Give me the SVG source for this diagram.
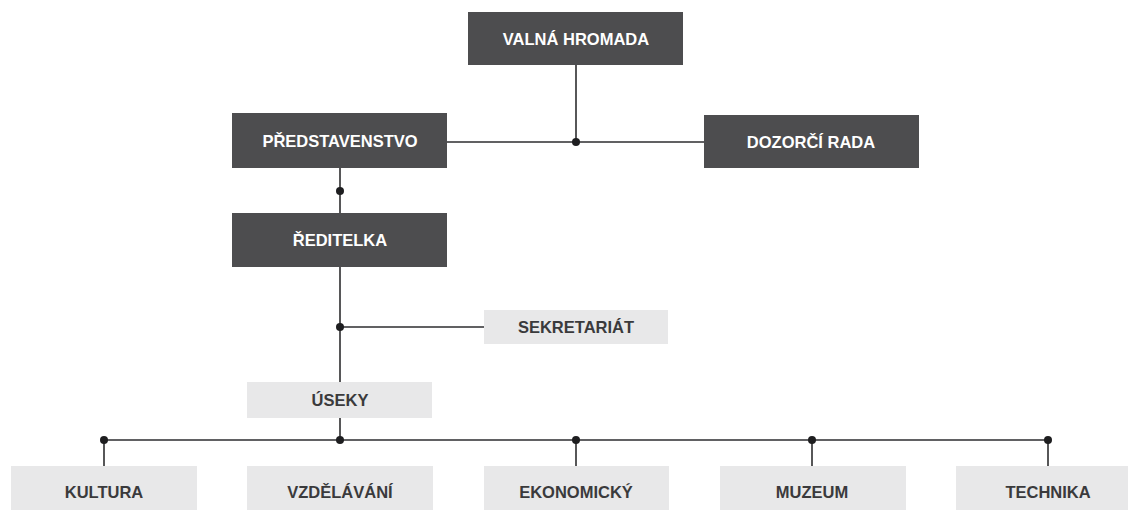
<svg xmlns="http://www.w3.org/2000/svg" width="1128" height="510" viewBox="0 0 1128 510">
<style>
.dark{fill:#4d4d4f}
.light{fill:#e8e8e9}
.tw{fill:#ffffff;font-family:"Liberation Sans",Arial,sans-serif;font-weight:bold;font-size:16.5px;text-anchor:middle}
.td{fill:#3a3a3c;font-family:"Liberation Sans",Arial,sans-serif;font-weight:bold;font-size:16.5px;text-anchor:middle}
.ln{stroke:#2e2e30;stroke-width:1.6;fill:none}
.dot{fill:#1e1e20}
</style>
<rect width="1128" height="510" fill="#ffffff"/>
<g id="connectors">
<path class="ln" d="M576 65V142M447 142H704M340 168V213M340 267V382M340 327H484M340 418V440M104 440H1048M104 440V466M576 440V466M812 440V466M1048 440V466"/>
<circle class="dot" cx="576" cy="142" r="4"/>
<circle class="dot" cx="340" cy="191" r="4"/>
<circle class="dot" cx="340" cy="327" r="4"/>
<circle class="dot" cx="104" cy="440" r="4"/>
<circle class="dot" cx="340" cy="440" r="4"/>
<circle class="dot" cx="576" cy="440" r="4"/>
<circle class="dot" cx="812" cy="440" r="4"/>
<circle class="dot" cx="1048" cy="440" r="4"/>
</g>
<g id="valna-hromada"><rect class="dark" x="468" y="12" width="215" height="53"/><text class="tw" x="576" y="44.5">VALNÁ HROMADA</text></g>
<g id="predstavenstvo"><rect class="dark" x="232" y="113" width="215" height="55"/><text class="tw" x="340" y="147">PŘEDSTAVENSTVO</text></g>
<g id="dozorci-rada"><rect class="dark" x="704" y="115" width="215" height="53"/><text class="tw" x="811" y="147.5">DOZORČÍ RADA</text></g>
<g id="reditelka"><rect class="dark" x="232" y="213" width="215" height="54"/><text class="tw" x="340" y="246">ŘEDITELKA</text></g>
<g id="sekretariat"><rect class="light" x="484" y="310" width="184" height="34"/><text class="td" x="576" y="333">SEKRETARIÁT</text></g>
<g id="useky"><rect class="light" x="247" y="382" width="185" height="36"/><text class="td" x="340" y="406">ÚSEKY</text></g>
<g id="kultura"><rect class="light" x="11" y="466" width="186" height="50"/><text class="td" x="104" y="498">KULTURA</text></g>
<g id="vzdelavani"><rect class="light" x="247" y="466" width="186" height="50"/><text class="td" x="340" y="498">VZDĚLÁVÁNÍ</text></g>
<g id="ekonomicky"><rect class="light" x="484" y="466" width="185" height="50"/><text class="td" x="576" y="498">EKONOMICKÝ</text></g>
<g id="muzeum"><rect class="light" x="720" y="466" width="186" height="50"/><text class="td" x="812" y="498">MUZEUM</text></g>
<g id="technika"><rect class="light" x="956" y="466" width="186" height="50"/><text class="td" x="1048" y="498">TECHNIKA</text></g>
</svg>
